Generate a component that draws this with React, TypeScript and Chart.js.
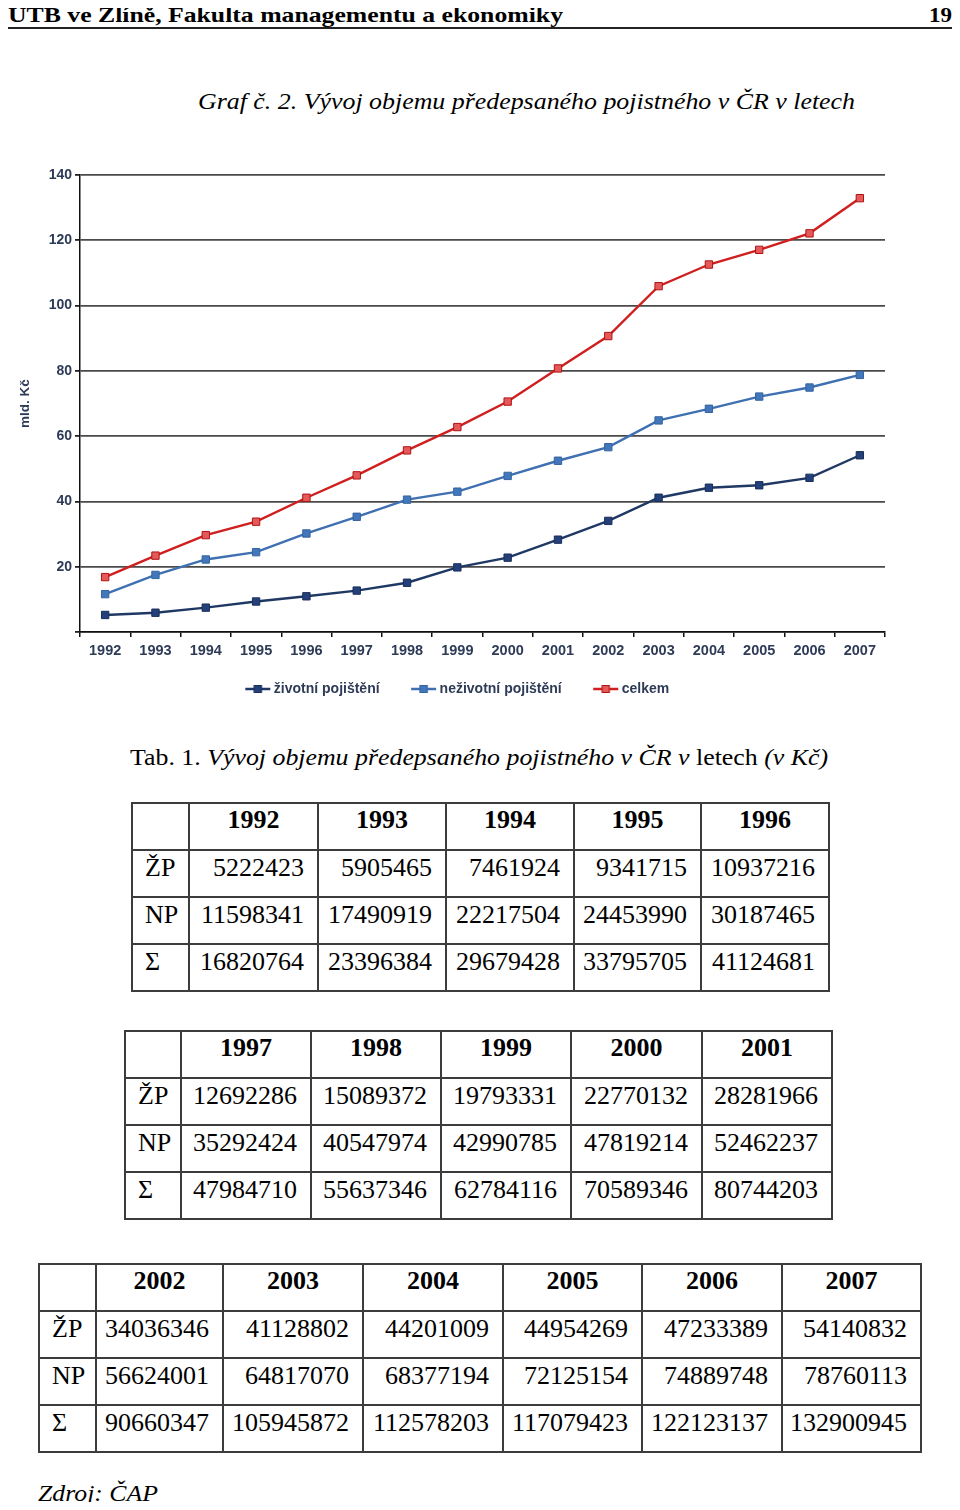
import React, { useEffect, useLayoutEffect, useRef } from "react";
import { Chart, registerables } from "chart.js";

Chart.register(...registerables);

// ---------- data ----------
const years = ["1992", "1993", "1994", "1995", "1996", "1997", "1998", "1999", "2000", "2001", "2002", "2003", "2004", "2005", "2006", "2007"];
const zivotni = [5222423, 5905465, 7461924, 9341715, 10937216, 12692286, 15089372, 19793331, 22770132, 28281966, 34036346, 41128802, 44201009, 44954269, 47233389, 54140832];
const nezivotni = [11598341, 17490919, 22217504, 24453990, 30187465, 35292424, 40547974, 42990785, 47819214, 52462237, 56624001, 64817070, 68377194, 72125154, 74889748, 78760113];
const celkem = [16820764, 23396384, 29679428, 33795705, 41124681, 47984710, 55637346, 62784116, 70589346, 80744203, 90660347, 105945872, 112578203, 117079423, 122123137, 132900945];
const seriesNames = ["životní pojištění", "neživotní pojištění", "celkem"];
const rowLabels = ["ŽP", "NP", "Σ"];
const yMin = 0;
const yMax = 140;
const yStep = 20;
const yTitle = "mld. Kč";
const toMld = (v: number) => v / 1e6;

const lineColors = ["#1f3864", "#3f70b2", "#cf1f1f"];
const pointFills = ["#23407a", "#4377bb", "#e45a5a"];
const pointBorders = ["#1a2f58", "#34649f", "#b01212"];

const chartFont = "'Liberation Sans', Arial, sans-serif";
const serif = "'Liberation Serif', 'Times New Roman', serif";

function FitText({ width, style, children, origin = "left" }: any) {
  const ref = useRef<HTMLSpanElement>(null);
  useLayoutEffect(() => {
    const el = ref.current;
    if (!el) return;
    el.style.transform = "none";
    const w = el.getBoundingClientRect().width;
    if (w > 0) el.style.transform = `scaleX(${width / w})`;
  });
  return (
    <span ref={ref} style={{ display: "inline-block", whiteSpace: "nowrap", transformOrigin: origin, ...style }}>
      {children}
    </span>
  );
}

// legend symbol: line with a square marker, drawn in the right part of a wider image
function makeIcon(line: string, fill: string, border: string) {
  const c = document.createElement("canvas");
  c.width = 52;
  c.height = 10;
  const g = c.getContext("2d")!;
  g.strokeStyle = line;
  g.lineWidth = 2.5;
  g.beginPath();
  g.moveTo(26, 5);
  g.lineTo(51, 5);
  g.stroke();
  g.fillStyle = fill;
  g.fillRect(34.5, 1, 8, 8);
  g.strokeStyle = border;
  g.lineWidth = 1;
  g.strokeRect(35, 1.5, 7, 7);
  return c;
}

function InsuranceChart() {
  const ref = useRef<HTMLCanvasElement>(null);
  useEffect(() => {
    if (!ref.current) return;
    const icons = [0, 1, 2].map((i) => makeIcon(lineColors[i], pointFills[i], pointBorders[i]));
    const series = [zivotni, nezivotni, celkem];
    const chart = new Chart(ref.current, {
      type: "line",
      data: {
        labels: years,
        datasets: series.map((s, i) => ({
          label: seriesNames[i],
          data: s.map(toMld),
          borderColor: lineColors[i],
          backgroundColor: pointFills[i],
          borderWidth: 2.4,
          pointStyle: "rect",
          pointRadius: 5.2,
          pointBorderWidth: 1,
          pointBackgroundColor: pointFills[i],
          pointBorderColor: pointBorders[i],
          tension: 0,
          fill: false,
        })),
      },
      options: {
        responsive: false,
        animation: false,
        layout: { padding: { left: 8, right: 15, top: 20, bottom: 9 } },
        scales: {
          x: {
            offset: true,
            grid: { display: true, drawOnChartArea: false, offset: true, tickLength: 5, color: "#111", lineWidth: 1.5 },
            border: { color: "#111", width: 1.5 },
            ticks: { autoSkip: false, maxRotation: 0, padding: 5, color: "#2e3b57", font: { family: chartFont, size: 14.5, weight: "bold" } },
            afterFit: (s: any) => {
              s.height = 40;
            },
          },
          y: {
            min: yMin,
            max: yMax,
            ticks: {
              stepSize: yStep,
              padding: 3,
              color: "#2e3b57",
              font: { family: chartFont, size: 14, weight: "bold" },
              callback: (v: any) => (v === 0 ? "" : String(v)),
            },
            grid: { color: "#4a4a4a", lineWidth: 1.8, tickLength: 5, tickColor: "#222" },
            border: { color: "#111", width: 1.5 },
            title: {
              display: true,
              text: yTitle,
              color: "#2e3b57",
              font: { family: chartFont, size: 13.5, weight: "bold" },
              padding: { top: 9, bottom: 0 },
            },
            afterFit: (s: any) => {
              s.width = 72;
            },
          },
        },
        plugins: {
          legend: {
            position: "bottom",
            labels: {
              usePointStyle: true,
              pointStyleWidth: 43,
              padding: 10,
              color: "#2e3b57",
              font: { family: chartFont, size: 14, weight: "bold" },
              generateLabels: (ch: any) =>
                Chart.defaults.plugins.legend.labels.generateLabels(ch).map((it: any, i: number) => ({
                  ...it,
                  pointStyle: icons[i],
                })),
            },
          },
          tooltip: { enabled: false },
        },
      } as any,
    });
    return () => chart.destroy();
  }, []);
  return <canvas ref={ref} width={900} height={560} style={{ position: "absolute", left: 0, top: 155 }} />;
}

function DataTable({ left, top, cols, start, end }: { left: number; top: number; cols: number[]; start: number; end: number }) {
  const values = [zivotni, nezivotni, celkem];
  const total = cols.reduce((a, b) => a + b, 0);
  const cell: React.CSSProperties = {
    border: "2px solid #3c3c3c",
    height: 43,
    padding: "2px 13px 0 0",
    verticalAlign: "top",
    lineHeight: "30px",
    textAlign: "right",
    whiteSpace: "nowrap",
    overflow: "visible",
  };
  return (
    <table
      style={{
        position: "absolute",
        left,
        top,
        width: total,
        borderCollapse: "collapse",
        tableLayout: "fixed",
        fontFamily: serif,
        fontSize: 26,
      }}
    >
      <colgroup>
        {cols.map((w, i) => (
          <col key={i} style={{ width: w }} />
        ))}
      </colgroup>
      <tbody>
        <tr>
          <td style={{ ...cell }}></td>
          {years.slice(start, end).map((y) => (
            <td key={y} style={{ ...cell, textAlign: "center", padding: "1px 0 0 0", fontWeight: "bold" }}>
              {y}
            </td>
          ))}
        </tr>
        {values.map((arr, r) => (
          <tr key={r}>
            <td style={{ ...cell, textAlign: "left", padding: "2px 0 0 12px" }}>{rowLabels[r]}</td>
            {arr.slice(start, end).map((v, i) => (
              <td key={i} style={cell}>
                {String(v)}
              </td>
            ))}
          </tr>
        ))}
      </tbody>
    </table>
  );
}

export default function App() {
  return (
    <div style={{ position: "relative", width: 960, height: 1510, margin: -8, fontFamily: serif, color: "#000", overflow: "hidden" }}>
      <div style={{ position: "absolute", left: 8, top: 2, fontSize: 22, fontWeight: "bold", lineHeight: "26px" }}>
        <FitText width={555}>UTB ve Zlíně, Fakulta managementu a ekonomiky</FitText>
      </div>
      <div style={{ position: "absolute", left: 929, top: 2, fontSize: 22, fontWeight: "bold", lineHeight: "26px" }}>
        <FitText width={23}>19</FitText>
      </div>
      <div style={{ position: "absolute", left: 4, top: 27, width: 952, height: 2, background: "#222" }} />

      <div style={{ position: "absolute", left: 198, top: 87, fontSize: 24, fontStyle: "italic", lineHeight: "28px" }}>
        <FitText width={657}>Graf č. 2. Vývoj objemu předepsaného pojistného v ČR v letech</FitText>
      </div>

      <InsuranceChart />

      <div style={{ position: "absolute", left: 130, top: 743, fontSize: 24, lineHeight: "28px" }}>
        <FitText width={698}>
          Tab. 1. <i>Vývoj objemu předepsaného pojistného v ČR v</i> letech <i>(v Kč)</i>
        </FitText>
      </div>

      <DataTable left={131} top={802} cols={[57, 129, 128, 128, 127, 128]} start={0} end={5} />
      <DataTable left={124} top={1030} cols={[56, 130, 130, 130, 131, 130]} start={5} end={10} />
      <DataTable left={38} top={1263} cols={[57, 127, 140, 140, 139, 140, 139]} start={10} end={16} />

      <div style={{ position: "absolute", left: 38, top: 1479, fontSize: 24, fontStyle: "italic", lineHeight: "28px" }}>
        <FitText width={120}>Zdroj: ČAP</FitText>
      </div>
    </div>
  );
}
